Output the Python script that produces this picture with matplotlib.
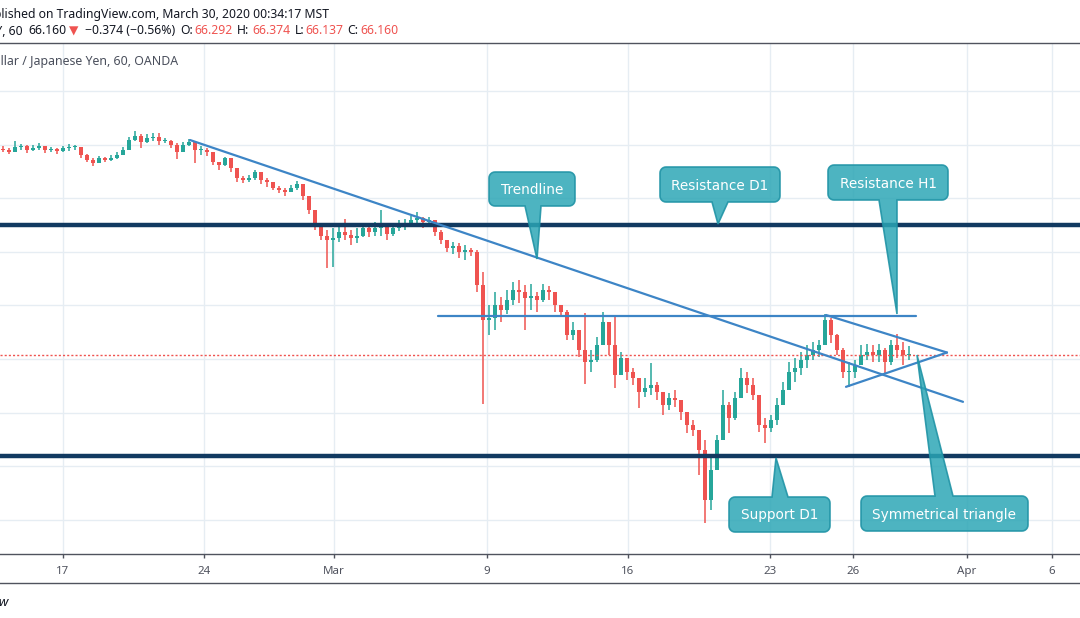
import matplotlib
matplotlib.use("Agg")
import matplotlib.pyplot as plt
import numpy as np
from matplotlib.lines import Line2D
from matplotlib.patches import Polygon
from matplotlib.transforms import IdentityTransform

W, H = 1080, 618

# AUD/JPY, 4-hour bars (open = previous close)
first_open = 73.85
closes = [
    73.80, 73.72, 73.91, 73.95, 73.80, 73.87, 73.95, 73.80, 73.84, 73.76,
    73.87, 73.91, 73.91, 73.61, 73.42, 73.31, 73.50, 73.42, 73.50, 73.61,
    73.80, 74.17, 74.32, 74.10, 74.25, 74.28, 74.13, 74.13, 73.98, 73.72,
    73.98, 74.10, 73.80, 73.80, 73.72, 73.35, 73.24, 73.50, 73.13, 72.75,
    72.68, 72.75, 72.98, 72.68, 72.60, 72.38, 72.31, 72.23, 72.38, 72.53,
    72.08, 71.56, 70.96, 70.59, 70.44, 70.51, 70.74, 70.63, 70.51, 70.59,
    70.89, 70.74, 70.89, 70.96, 70.66, 70.89, 70.96, 71.04, 71.19, 71.26,
    71.11, 71.19, 70.74, 70.44, 70.14, 70.22, 69.99, 70.07, 69.99, 68.76,
    67.46, 67.53, 68.01, 67.83, 68.20, 68.57, 68.50, 68.28, 68.35, 68.20,
    68.57, 68.50, 68.01, 67.75, 66.90, 67.08, 66.34, 65.89, 65.96, 66.52,
    67.38, 66.52, 65.40, 66.04, 65.51, 65.29, 64.77, 64.92, 65.03, 64.77,
    64.28, 64.54, 64.47, 64.02, 63.54, 63.35, 62.60, 60.74, 61.86, 62.98,
    64.28, 63.80, 64.54, 65.29, 65.03, 64.66, 63.54, 63.43, 63.72, 64.28,
    64.84, 65.51, 65.66, 65.96, 66.15, 66.34, 66.52, 67.46, 66.90, 66.34,
    65.51, 65.51, 65.78, 66.15, 66.26, 66.15, 66.34, 65.89, 66.52, 66.34,
    66.15, 66.16,
]
highs = [
    73.95, 73.87, 74.13, 74.02, 73.98, 73.98, 74.06, 73.95, 73.91, 73.87,
    73.95, 74.02, 73.98, 73.91, 73.65, 73.50, 73.57, 73.54, 73.61, 73.72,
    73.91, 74.28, 74.51, 74.39, 74.39, 74.43, 74.43, 74.25, 74.17, 74.06,
    74.10, 74.21, 74.13, 73.95, 73.87, 73.72, 73.35, 73.54, 73.50, 73.13,
    72.83, 72.87, 73.05, 72.90, 72.75, 72.57, 72.45, 72.38, 72.49, 72.64,
    72.45, 71.93, 71.56, 71.00, 70.81, 70.89, 70.96, 71.22, 70.81, 70.89,
    71.07, 71.04, 71.11, 71.56, 71.04, 71.07, 71.19, 71.22, 71.34, 71.48,
    71.30, 71.30, 71.19, 70.81, 70.44, 70.37, 70.33, 70.25, 70.14, 70.07,
    69.25, 68.01, 68.50, 68.31, 68.57, 68.87, 68.95, 68.76, 68.80, 68.50,
    68.80, 68.72, 68.50, 68.01, 67.83, 67.38, 67.08, 67.72, 66.34, 66.82,
    67.75, 67.08, 67.57, 66.26, 65.96, 65.66, 65.22, 65.29, 65.85, 65.14,
    64.66, 64.73, 64.84, 64.47, 64.02, 63.72, 63.28, 62.98, 62.42, 63.16,
    64.84, 64.40, 64.77, 65.66, 65.51, 65.29, 64.66, 63.80, 63.91, 64.54,
    65.14, 65.89, 66.04, 66.26, 66.52, 66.63, 66.71, 67.68, 67.53, 66.93,
    66.41, 65.89, 65.96, 66.52, 66.56, 66.52, 66.56, 66.41, 66.71, 66.93,
    66.63, 66.49,
]
lows = [
    73.72, 73.65, 73.72, 73.80, 73.69, 73.76, 73.80, 73.69, 73.72, 73.65,
    73.72, 73.76, 73.80, 73.50, 73.35, 73.20, 73.31, 73.35, 73.39, 73.46,
    73.61, 73.87, 74.13, 73.87, 74.06, 74.13, 73.98, 74.06, 73.87, 73.46,
    73.72, 73.95, 73.31, 73.61, 73.57, 73.24, 73.05, 73.20, 72.98, 72.60,
    72.57, 72.60, 72.68, 72.53, 72.42, 72.31, 72.19, 72.08, 72.23, 72.31,
    71.93, 71.41, 70.81, 70.44, 69.40, 69.43, 70.37, 70.44, 70.25, 70.33,
    70.55, 70.55, 70.59, 70.59, 70.44, 70.59, 70.78, 70.81, 70.96, 71.04,
    70.89, 70.92, 70.59, 70.29, 69.99, 69.92, 69.77, 69.69, 69.84, 68.50,
    64.32, 66.90, 67.08, 67.38, 67.68, 68.01, 68.09, 67.08, 67.83, 67.75,
    68.13, 68.20, 67.75, 67.60, 66.71, 66.71, 66.07, 65.07, 65.51, 65.89,
    66.71, 66.15, 64.92, 65.51, 65.22, 65.03, 64.17, 64.58, 64.66, 64.47,
    63.91, 64.10, 64.21, 63.72, 63.24, 63.13, 61.67, 59.88, 60.37, 62.16,
    63.05, 63.24, 63.72, 64.54, 64.73, 64.47, 63.28, 62.87, 63.28, 63.54,
    64.47, 64.92, 65.14, 65.40, 65.66, 65.96, 66.07, 66.52, 66.60, 66.15,
    65.29, 64.96, 65.29, 65.78, 65.96, 65.89, 65.89, 65.48, 65.78, 66.04,
    65.78, 65.96,
]

# time axis (bar index of each date label) and price grid
tick_pos = [10.0, 33.5, 55.17, 80.67, 104.17, 127.83, 141.67, 160.67, 174.83]
tick_labels = ["17", "24", "Mar", "9", "16", "23", "26", "Apr", "6"]
price_grid = [60, 62, 64, 66, 68, 70, 72, 74, 76]

# drawings
last_price = 66.16
resistance_d1 = 71.0
support_d1 = 62.36
trend_x, trend_y = [31.17, 160.0], [74.17, 64.40]
h1_x, h1_y = [72.5, 152.17], [67.60, 67.60]
tri_up_x, tri_up_y = [137.17, 157.33], [67.64, 66.24]
tri_lo_x, tri_lo_y = [140.5, 157.33], [64.96, 66.24]

UP, DOWN = "#26a69a", "#ef5350"
NAVY = "#123a61"
BLUE = "#3d85c6"
GRID = "#e6edf3"
AXC = "#50535e"
SANS = ["Noto Sans", "DejaVu Sans"]


def fx(x):
    return x / W


def fy(y):
    return 1 - y / H


def callout(fig, text, box, base, tip, side="bottom", r=6):
    # rounded box + pointer as one outline, pixel coords with y down
    x0, y0, x1, y1 = box
    pts = [(x0 + r, y0)]
    if side == "top":
        pts += [(base[0], y0), tip, (base[1], y0)]
    pts.append((x1 - r, y0))
    for t in np.linspace(-90, 0, 7):
        pts.append((x1 - r + r * np.cos(np.radians(t)), y0 + r + r * np.sin(np.radians(t))))
    for t in np.linspace(0, 90, 7):
        pts.append((x1 - r + r * np.cos(np.radians(t)), y1 - r + r * np.sin(np.radians(t))))
    if side == "bottom":
        pts += [(base[1], y1), tip, (base[0], y1)]
    for t in np.linspace(90, 180, 7):
        pts.append((x0 + r + r * np.cos(np.radians(t)), y1 - r + r * np.sin(np.radians(t))))
    for t in np.linspace(180, 270, 7):
        pts.append((x0 + r + r * np.cos(np.radians(t)), y0 + r + r * np.sin(np.radians(t))))
    disp = [(x, H - y) for x, y in pts]
    poly = Polygon(disp, closed=True, transform=IdentityTransform(),
                   facecolor=(0.17, 0.65, 0.71, 0.84), edgecolor=(0.13, 0.58, 0.65, 0.9),
                   lw=1.2, zorder=5)
    fig.add_artist(poly)
    fig.text(fx((x0 + x1) / 2), fy((y0 + y1) / 2 + 1), text, ha="center", va="center",
             color="white", fontsize=9.8, family="DejaVu Sans", zorder=6)


def main() -> None:
    fig = plt.figure(figsize=(W / 100, H / 100), dpi=100)
    fig.patch.set_facecolor("white")
    ax = fig.add_axes([0, fy(553.5), 1, (553.5 - 42.5) / H])
    ax.set_facecolor("white")

    # candles
    opens = [first_open] + closes[:-1]
    idx = np.arange(len(closes))
    o = np.array(opens)
    c = np.array(closes)
    hi = np.maximum(np.array(highs), np.maximum(o, c))
    lo = np.minimum(np.array(lows), np.minimum(o, c))
    cols = [UP if cc >= oo else DOWN for oo, cc in zip(o, c)]
    ax.vlines(idx, lo, hi, colors=cols, lw=1.1, zorder=2)
    body = np.maximum(np.abs(c - o), 0.03)
    ax.bar(idx, body, bottom=np.minimum(o, c), width=0.78, color=cols, lw=0, zorder=2)

    # price line and drawings
    ax.axhline(last_price, color=DOWN, lw=1, ls=(0, (1.5, 1.5)), zorder=3)
    ax.axhline(resistance_d1, color=NAVY, lw=3.2, zorder=4)
    ax.axhline(support_d1, color=NAVY, lw=3.2, zorder=4)
    for xs, ys in [(trend_x, trend_y), (h1_x, h1_y), (tri_up_x, tri_up_y), (tri_lo_x, tri_lo_y)]:
        ax.plot(xs, ys, color=BLUE, lw=1.6, solid_capstyle="round", zorder=4)

    ax.set_xlim(-0.5, 179.5)
    ax.set_ylim(58.74, 77.81)
    ax.set_yticks(price_grid)
    ax.set_xticks(tick_pos, tick_labels)
    ax.grid(True, color=GRID, lw=1, zorder=0)
    ax.set_axisbelow(True)
    ax.tick_params(axis="y", length=0, labelleft=False)
    ax.tick_params(axis="x", length=3, width=1, color=AXC, labelcolor=AXC,
                   labelsize=8.3, pad=6)
    for lab in ax.get_xticklabels():
        lab.set_family(SANS)
    for s in ["left", "right"]:
        ax.spines[s].set_visible(False)
    for s in ["top", "bottom"]:
        ax.spines[s].set_color(AXC)
        ax.spines[s].set_linewidth(1)

    # bottom rule and logo text
    fig.add_artist(Line2D([0, 1], [fy(582.5)] * 2, transform=fig.transFigure, color=AXC, lw=1))
    fig.text(fx(9), fy(606), "TradingView", ha="right", va="baseline", fontsize=9.5,
             fontweight="bold", style="italic", color="#131722", family=SANS)

    # header
    fig.text(fx(329), fy(18), "Published on TradingView.com, March 30, 2020 00:34:17 MST",
             ha="right", va="baseline", fontsize=8.8, color="#131722", family=SANS)
    base_y = fy(34.5)
    pieces = [
        (23, "AUDJPY, 60", "#131722", "bold", "right"),
        (28, "66.160", "#131722", "normal", "left"),
        (69, "\u25bc", DOWN, "normal", "left"),
        (85, "\u22120.374 (\u22120.56%)", "#131722", "normal", "left"),
        (180, "O:", "#131722", "bold", "left"),
        (194, "66.292", DOWN, "normal", "left"),
        (237, "H:", "#131722", "bold", "left"),
        (252, "66.374", DOWN, "normal", "left"),
        (295, "L:", "#131722", "bold", "left"),
        (305, "66.137", DOWN, "normal", "left"),
        (347, "C:", "#131722", "bold", "left"),
        (360, "66.160", DOWN, "normal", "left"),
    ]
    for x, s, col, wt, ha in pieces:
        fig.text(fx(x), base_y, s, ha=ha, va="baseline", fontsize=8.8, color=col,
                 fontweight=wt, family=SANS)
    fig.text(fx(178), fy(64.5), "Australian Dollar / Japanese Yen, 60, OANDA", ha="right",
             va="baseline", fontsize=8.9, fontweight="bold", color="#4a4f5c", family=SANS)

    # callouts (pixel layout)
    callout(fig, "Trendline", (489, 172, 575, 206), (525, 541), (537, 259))
    callout(fig, "Resistance D1", (660, 167, 780, 202), (712, 728), (718, 224))
    callout(fig, "Resistance H1", (828, 165, 948, 200), (879, 897), (897, 314))
    callout(fig, "Support D1", (729, 497, 830, 532), (772, 788), (776, 458), side="top")
    callout(fig, "Symmetrical triangle", (861, 496, 1028, 531), (935, 953), (917, 355), side="top")

    fig.savefig("out.png", dpi=100, facecolor="white")
    plt.close(fig)


if __name__ == "__main__":
    main()
